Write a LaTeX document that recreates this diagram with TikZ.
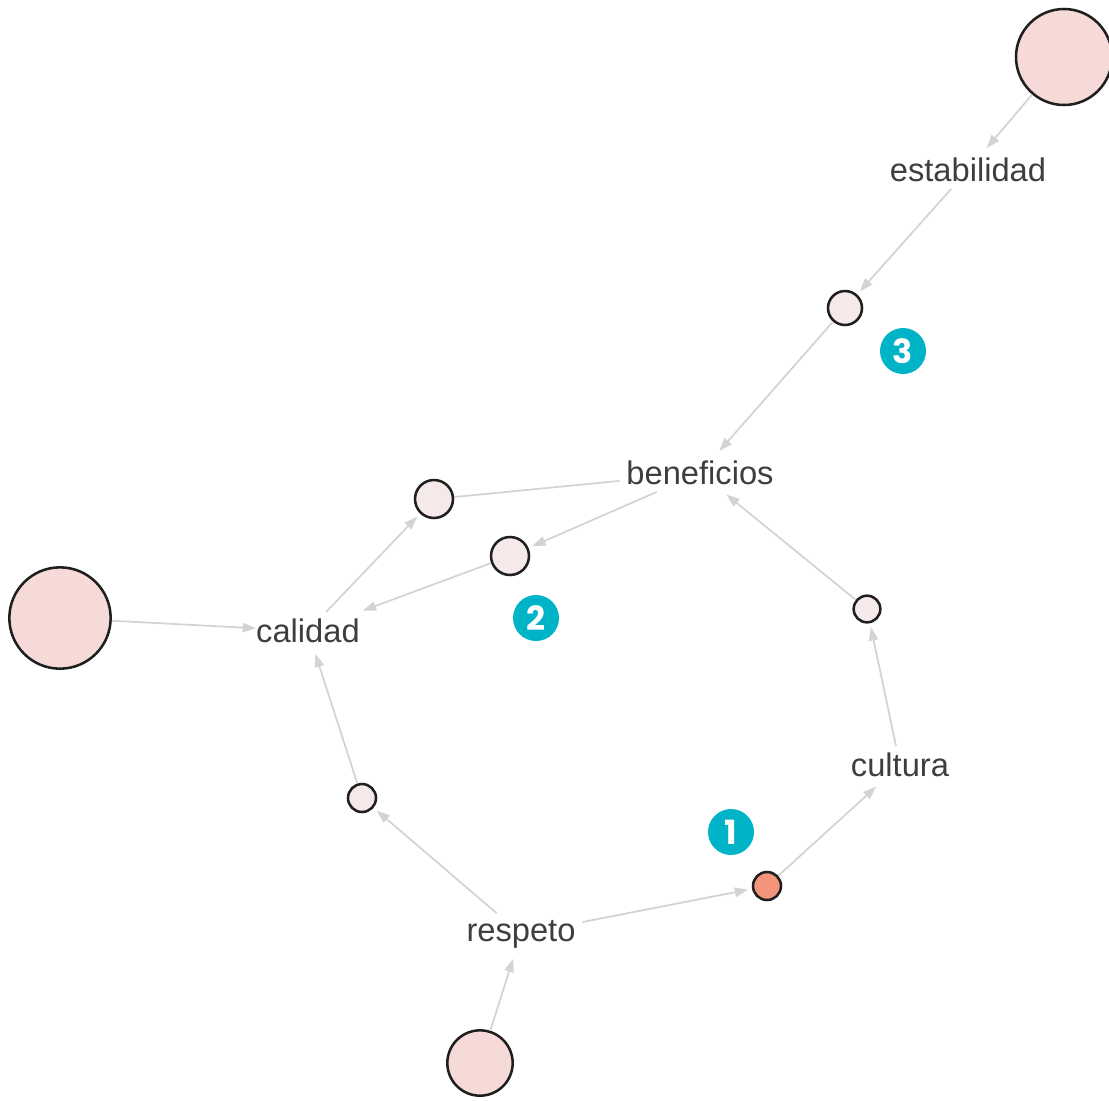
\documentclass[tikz,border=0pt]{standalone}
\usepackage{fontspec}
\setmainfont{Liberation Sans}
\newfontfamily\badgefont{Poppins}
\usetikzlibrary{arrows.meta}
\definecolor{edgegray}{HTML}{D3D3D3}
\definecolor{labelgray}{HTML}{3E3E3E}
\definecolor{bigpink}{HTML}{F6DAD7}
\definecolor{smallpink}{HTML}{F5E9E9}
\definecolor{orangefill}{HTML}{F4957B}
\definecolor{badgeteal}{HTML}{00B3C6}
\tikzset{
  lbl/.style={font=\fontsize{24.5}{26}\selectfont, text=labelgray, inner sep=5pt, rectangle},
  dot/.style={circle, draw=black!88, line width=1.9pt, inner sep=0pt, fill=smallpink},
  bigdot/.style={dot, fill=bigpink},
  badge/.style={circle, fill=badgeteal, minimum size=34.5pt, inner sep=0pt, text=white, font=\badgefont\bfseries\fontsize{25}{25}\selectfont},
  link/.style={draw=edgegray, line width=1.3pt},
  arr/.style={link, -{Triangle[length=10pt,width=7pt]}, shorten >=3pt}
}
\begin{document}
\begin{tikzpicture}[x=0.75pt,y=-0.75pt]
\useasboundingbox (0,0) rectangle (1109,1100);
% nodes
\node[bigdot, minimum size=72pt] (topbig) at (1064,57) {};
\node[lbl] (estab) at (968,170) {estabilidad};
\node[dot, minimum size=25.5pt] (n3) at (845,308) {};
\node[badge] (b3) at (903,351) {3};
\node[lbl] (benef) at (700,473) {beneficios};
\node[dot, minimum size=28.5pt] (na) at (434,499) {};
\node[dot, minimum size=28.5pt] (nb) at (510,556) {};
\node[badge] (b2) at (536,618) {2};
\node[bigdot, minimum size=76pt] (leftbig) at (60,618) {};
\node[lbl] (calidad) at (308,631) {calidad};
\node[dot, minimum size=20pt] (nc) at (867,609) {};
\node[lbl] (cultura) at (900,765) {cultura};
\node[dot, minimum size=21pt] (nd) at (362,798) {};
\node[badge] (b1) at (731,832) {1};
\node[dot, fill=orangefill, minimum size=21pt] (ne) at (767,886) {};
\node[lbl] (respeto) at (521,934) {respeto};
\node[bigdot, minimum size=49pt] (botbig) at (480,1063) {};
% connectors
\draw[arr] (topbig) -- (estab);
\draw[arr] (estab) -- (n3);
\draw[arr] (n3) -- (benef);
\draw[link] (benef) -- (na);
\draw[arr] (calidad) -- (na);
\draw[arr] (benef) -- (nb);
\draw[arr] (nb) -- (calidad);
\draw[arr, shorten >=-5pt] (leftbig) -- (calidad);
\draw[arr] (nd) -- (calidad);
\draw[arr] (respeto) -- (nd);
\draw[arr] (respeto) -- (ne);
\draw[arr] (ne) -- (cultura);
\draw[arr] (cultura) -- (nc);
\draw[arr] (nc) -- (benef);
\draw[arr] (botbig) -- (respeto);
\end{tikzpicture}
\end{document}
